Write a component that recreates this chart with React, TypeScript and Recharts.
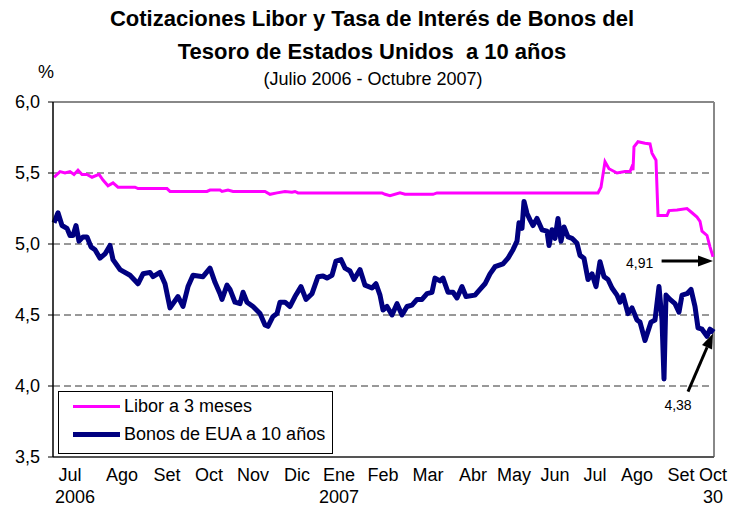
import React from 'react';
import { LineChart, Line, XAxis, YAxis, CartesianGrid, ReferenceLine } from 'recharts';

// x = trading day index from the start of July 2006 (0 .. 330.5 = Oct 30 2007)
const liborDays = [
  0.5, 3.5, 6, 8.5, 10.5, 12.5, 14.5, 17, 19.5, 23, 25, 27.5, 30, 32.5, 35, 41, 42.5, 57, 58.5, 77,
  78.5, 83.5, 84.5, 87.5, 90, 106, 108.5, 112, 116, 119.5, 121, 122.5, 164.5, 166, 168.5, 173.5, 176,
  190, 192, 272.5, 274, 276, 278, 282, 286, 288.5, 289.5, 290, 290.5, 292.5, 296, 298.5, 299.5, 301.5,
  302.5, 307, 308, 312, 317, 319.5, 322, 323.5, 324.5, 327, 328.5, 330,
];
const liborRates = [
  5.47, 5.51, 5.5, 5.51, 5.49, 5.52, 5.49, 5.49, 5.47, 5.49, 5.45, 5.41, 5.43, 5.4, 5.4, 5.4, 5.39, 5.39, 5.37, 5.37,
  5.38, 5.38, 5.37, 5.38, 5.37, 5.37, 5.35, 5.36, 5.37, 5.365, 5.37, 5.36, 5.36, 5.35, 5.34, 5.36, 5.35,
  5.35, 5.36, 5.36, 5.4, 5.58, 5.53, 5.5, 5.51, 5.51, 5.545, 5.52, 5.685, 5.72, 5.71, 5.705, 5.64, 5.59,
  5.2, 5.2, 5.235, 5.24, 5.25, 5.22, 5.19, 5.16, 5.09, 5.06, 4.98, 4.91,
];

const bondDays = [
  0.5, 2.5, 4.5, 7, 8.5, 10, 11.5, 13, 15, 17, 19, 21, 23.5, 26, 28.5, 30, 33.5, 38.5, 42.5, 45,
  48.5, 50, 53.5, 56, 58.5, 62.5, 65, 67.5, 70, 72.5, 75, 78.5, 81, 83.5, 84.5, 87, 88.5, 91, 93.5, 95,
  97, 100, 103.5, 106, 107.5, 110, 112, 113.5, 116, 118.5, 121, 124, 126.5, 129.5, 132.5, 135, 137, 139.5,
  141.5, 144, 146, 148.5, 150.5, 153.5, 156, 159.5, 161.5, 163.5, 165, 167, 169.5, 172, 174.5, 177, 179.5,
  182, 184.5, 187, 189.5, 191, 193.5, 195, 197.5, 200, 202, 204.5, 206.5, 211, 213.5, 216, 218.5, 221,
  225, 227.5, 230, 232, 233, 234.5, 235.5, 237, 238.5, 240, 242, 244.5, 247, 248, 249.5, 251, 252.5, 254,
  255.5, 257.5, 259.5, 262, 263.5, 265.5, 267.5, 269.5, 271.5, 273.5, 275.5, 277.5, 279.5, 282, 283.5,
  285, 287.5, 289.5, 292, 293.5, 296, 299, 301, 303, 304.5, 305.5, 306.5, 308.5, 311, 313, 314.5, 317,
  319, 321, 322.5, 324.5, 327, 328.5, 330.5,
];
const bondYields = [
  5.15, 5.22, 5.13, 5.11, 5.06, 5.06, 5.13, 5.02, 5.05, 5.05, 4.98, 4.96, 4.9, 4.93, 4.99, 4.89, 4.82, 4.78, 4.72, 4.79,
  4.8, 4.77, 4.8, 4.72, 4.55, 4.63, 4.56, 4.7, 4.78, 4.775, 4.77, 4.83, 4.73, 4.65, 4.61, 4.71, 4.68, 4.59, 4.58, 4.66,
  4.59, 4.56, 4.51, 4.43, 4.42, 4.49, 4.51, 4.59, 4.59, 4.56, 4.63, 4.7, 4.61, 4.65, 4.77, 4.775, 4.76, 4.78,
  4.88, 4.89, 4.83, 4.81, 4.75, 4.82, 4.71, 4.69, 4.72, 4.64, 4.535, 4.56, 4.5, 4.58, 4.5, 4.56, 4.57,
  4.61, 4.61, 4.65, 4.66, 4.76, 4.74, 4.76, 4.66, 4.66, 4.62, 4.7, 4.63, 4.64, 4.68, 4.72, 4.79, 4.84,
  4.86, 4.9, 4.96, 5.02, 5.15, 5.11, 5.3, 5.215, 5.17, 5.13, 5.18, 5.1, 5.09, 4.99, 5.1, 5.04, 5.18, 5.02,
  5.12, 5.05, 5.04, 5.005, 4.92, 4.9, 4.75, 4.79, 4.7, 4.875, 4.77, 4.75, 4.69, 4.64, 4.59,
  4.64, 4.51, 4.55, 4.465, 4.45, 4.32, 4.45, 4.465, 4.7, 4.465, 4.05, 4.64, 4.61, 4.58, 4.52, 4.64, 4.65,
  4.68, 4.56, 4.41, 4.4, 4.35, 4.4, 4.38,
];

const monthTicks = [8.5, 34.5, 57, 78, 100, 122, 143, 165, 187.5, 210, 230.5, 251, 271, 292, 314, 330];
const monthLabels = ['Jul', 'Ago', 'Set', 'Oct', 'Nov', 'Dic', 'Ene', 'Feb', 'Mar', 'Abr', 'May', 'Jun', 'Jul', 'Ago', 'Set', 'Oct'];
const yearLabels = ['2006', '', '', '', '', '', '2007', '', '', '', '', '', '', '', '', '30'];

const yTicks = [3.5, 4.0, 4.5, 5.0, 5.5, 6.0];

const liborData = liborDays.map((d, i) => ({ d, v: liborRates[i] }));
const bondData = bondDays.map((d, i) => ({ d, v: bondYields[i] }));

const FONT = '"Liberation Sans", Arial, sans-serif';

const MonthTick = (props: any) => {
  const { x, y, payload } = props;
  const i = monthTicks.indexOf(payload.value);
  return (
    <g>
      <text x={x} y={y + 24} textAnchor="middle" fontSize={18} fill="#000" fontFamily={FONT}>
        {monthLabels[i]}
      </text>
      {yearLabels[i] && (
        <text x={i === 0 ? x + 5 : x} y={y + 46} textAnchor="middle" fontSize={18} fill="#000" fontFamily={FONT}>
          {yearLabels[i]}
        </text>
      )}
    </g>
  );
};

// arrow with label at its tail
const arrowShape = (label: string, tx: number, ty: number) => (p: any) => {
  const { x1, y1, x2, y2 } = p;
  const ang = Math.atan2(y2 - y1, x2 - x1);
  const len = 15;
  const hw = 5.5;
  const bx = x2 - len * Math.cos(ang);
  const by = y2 - len * Math.sin(ang);
  const px = -Math.sin(ang) * hw;
  const py = Math.cos(ang) * hw;
  return (
    <g>
      <line x1={x1} y1={y1} x2={bx} y2={by} stroke="#000" strokeWidth={3} />
      <polygon points={`${x2},${y2} ${bx + px},${by + py} ${bx - px},${by - py}`} fill="#000" />
      <text x={x1 + tx} y={y1 + ty} textAnchor="middle" fontSize={14} fill="#000" fontFamily={FONT}>
        {label}
      </text>
    </g>
  );
};

const App: React.FC = () => {
  return (
    <div style={{ position: 'absolute', left: 0, top: 0, width: 737, height: 508, background: '#fff', fontFamily: FONT }}>
      <div style={{ position: 'absolute', left: 0, width: 744, top: 6, textAlign: 'center', fontSize: 22, fontWeight: 'bold', lineHeight: '26px' }}>
        Cotizaciones Libor y Tasa de Interés de Bonos del
      </div>
      <div style={{ position: 'absolute', left: 0, width: 744, top: 39, textAlign: 'center', fontSize: 22, fontWeight: 'bold', lineHeight: '26px', whiteSpace: 'pre' }}>
        {'Tesoro de Estados Unidos  a 10 años'}
      </div>
      <div style={{ position: 'absolute', left: 0, width: 746, top: 68, textAlign: 'center', fontSize: 18, lineHeight: '22px' }}>
        (Julio 2006 - Octubre 2007)
      </div>
      <div style={{ position: 'absolute', left: 38, top: 61, fontSize: 18, lineHeight: '22px' }}>%</div>

      <LineChart width={737} height={508} margin={{ top: 102, right: 23, left: 8, bottom: 0 }}>
        <CartesianGrid horizontal vertical={false} stroke="#333" strokeDasharray="7 4" />
        <XAxis
          dataKey="d"
          type="number"
          domain={[0, 330.5]}
          ticks={monthTicks}
          interval={0}
          height={51}
          tickLine={false}
          tickSize={0}
          tickMargin={0}
          axisLine={{ stroke: '#555', strokeWidth: 2 }}
          tick={<MonthTick />}
        />
        <YAxis
          type="number"
          domain={[3.5, 6]}
          ticks={yTicks}
          width={45}
          interval={0}
          tickSize={5}
          tickMargin={8}
          axisLine={{ stroke: '#000', strokeWidth: 1.5 }}
          tickLine={{ stroke: '#000' }}
          tick={{ fontSize: 18, fill: '#000', fontFamily: FONT }}
          tickFormatter={(v: number) => v.toFixed(1).replace('.', ',')}
        />
        <ReferenceLine y={6} stroke="#888" strokeWidth={2} />
        <ReferenceLine x={330.5} stroke="#888" strokeWidth={2} />
        <Line
          data={liborData}
          dataKey="v"
          type="linear"
          stroke="#FF00FF"
          strokeWidth={3}
          dot={false}
          isAnimationActive={false}
        />
        <Line
          data={bondData}
          dataKey="v"
          type="linear"
          stroke="#000080"
          strokeWidth={5}
          strokeLinejoin="round"
          dot={false}
          isAnimationActive={false}
        />
        <ReferenceLine
          segment={[{ x: 304.3, y: 4.88 }, { x: 330, y: 4.88 }]}
          shape={arrowShape('4,91', -22, 7)}
        />
        <ReferenceLine
          segment={[{ x: 317.5, y: 3.96 }, { x: 330, y: 4.37 }]}
          shape={arrowShape('4,38', -10, 18)}
        />
      </LineChart>

      <div style={{ position: 'absolute', left: 58, top: 391, width: 273, height: 61, border: '1px solid #000', background: '#fff' }}>
        <div style={{ position: 'absolute', left: 14, top: 13, width: 47, height: 3, background: '#FF00FF' }} />
        <div style={{ position: 'absolute', left: 65, top: 3, fontSize: 18, lineHeight: '22px' }}>Libor a 3 meses</div>
        <div style={{ position: 'absolute', left: 14, top: 40, width: 47, height: 5, background: '#000080' }} />
        <div style={{ position: 'absolute', left: 65, top: 31, fontSize: 18, lineHeight: '22px' }}>Bonos de EUA a 10 años</div>
      </div>
    </div>
  );
};

export default App;
